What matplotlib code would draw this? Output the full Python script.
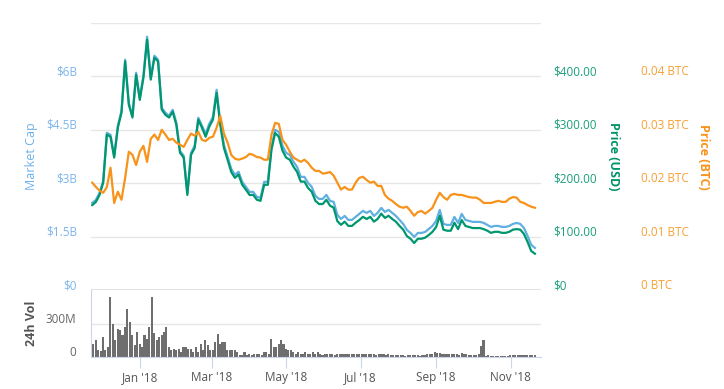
import matplotlib
matplotlib.use("Agg")
import matplotlib.pyplot as plt
import matplotlib.dates as mdates
import matplotlib.transforms as mtransforms
import pandas as pd

plt.rcParams['font.family'] = ['Open Sans', 'DejaVu Sans']

# price data, one value every 3 days from 23 Nov 2017
price_usd = [159, 165, 178, 201, 291, 287, 248, 304, 332, 428,
             347, 323, 403, 356, 398, 469, 394, 435, 428, 338,
             328, 323, 334, 309, 257, 248, 178, 253, 266, 319,
             304, 287, 306, 319, 369, 309, 266, 244, 221, 210,
             216, 197, 188, 178, 178, 169, 167, 197, 197, 263,
             294, 287, 261, 248, 244, 231, 221, 203, 203, 191,
             184, 167, 161, 161, 169, 158, 154, 129, 122, 128,
             120, 120, 126, 131, 137, 133, 137, 128, 133, 143,
             135, 139, 133, 128, 120, 113, 101, 96, 88, 96,
             96, 98, 103, 109, 118, 139, 113, 111, 111, 126,
             114, 131, 120, 118, 116, 116, 116, 114, 111, 107,
             109, 109, 107, 107, 109, 113, 114, 113, 105, 90,
             73, 68]

market_cap_b = [2.447, 2.531, 2.728, 3.066, 4.416, 4.359, 3.769, 4.613, 5.034, 6.469,
                5.259, 4.894, 6.103, 5.400, 6.019, 7.116, 5.963, 6.581, 6.469, 5.119,
                4.978, 4.894, 5.063, 4.697, 3.909, 3.769, 2.728, 3.853, 4.050, 4.838,
                4.613, 4.388, 4.669, 4.866, 5.625, 4.725, 4.078, 3.741, 3.403, 3.234,
                3.319, 3.038, 2.897, 2.756, 2.756, 2.616, 2.588, 3.038, 3.038, 4.022,
                4.500, 4.444, 4.050, 3.853, 3.797, 3.600, 3.459, 3.178, 3.178, 3.009,
                2.897, 2.644, 2.559, 2.559, 2.672, 2.503, 2.475, 2.109, 1.997, 2.081,
                1.969, 1.969, 2.053, 2.138, 2.222, 2.166, 2.222, 2.081, 2.166, 2.306,
                2.194, 2.250, 2.166, 2.081, 1.969, 1.856, 1.688, 1.603, 1.491, 1.603,
                1.603, 1.631, 1.716, 1.800, 1.941, 2.250, 1.856, 1.828, 1.828, 2.053,
                1.884, 2.138, 1.969, 1.941, 1.913, 1.913, 1.913, 1.884, 1.828, 1.772,
                1.800, 1.800, 1.772, 1.772, 1.800, 1.856, 1.884, 1.856, 1.744, 1.519,
                1.266, 1.181]

price_btc = [0.0201, 0.0193, 0.0186, 0.0182, 0.0193, 0.0229, 0.0163, 0.0184, 0.0169, 0.0210,
             0.0259, 0.0253, 0.0234, 0.0259, 0.0270, 0.0240, 0.0283, 0.0291, 0.0281, 0.0300,
             0.0291, 0.0281, 0.0283, 0.0276, 0.0272, 0.0268, 0.0281, 0.0293, 0.0289, 0.0296,
             0.0281, 0.0279, 0.0285, 0.0287, 0.0304, 0.0326, 0.0293, 0.0276, 0.0253, 0.0246,
             0.0244, 0.0246, 0.0249, 0.0255, 0.0253, 0.0249, 0.0248, 0.0244, 0.0244, 0.0291,
             0.0313, 0.0311, 0.0281, 0.0272, 0.0259, 0.0248, 0.0244, 0.0240, 0.0244, 0.0238,
             0.0229, 0.0223, 0.0223, 0.0218, 0.0219, 0.0221, 0.0214, 0.0201, 0.0188, 0.0193,
             0.0188, 0.0188, 0.0201, 0.0210, 0.0212, 0.0206, 0.0201, 0.0203, 0.0195, 0.0195,
             0.0178, 0.0171, 0.0167, 0.0161, 0.0156, 0.0154, 0.0156, 0.0148, 0.0139, 0.0146,
             0.0148, 0.0143, 0.0148, 0.0154, 0.0169, 0.0182, 0.0174, 0.0169, 0.0178, 0.0180,
             0.0178, 0.0178, 0.0176, 0.0174, 0.0173, 0.0173, 0.0169, 0.0163, 0.0163, 0.0163,
             0.0165, 0.0167, 0.0165, 0.0165, 0.0171, 0.0174, 0.0173, 0.0165, 0.0163, 0.0159,
             0.0156, 0.0154]

# 24h volume in millions, one bar every 2 days
volume_m = [121, 152, 61, 52, 182, 61, 91, 545, 303, 152,
            258, 242, 197, 273, 439, 318, 197, 112, 227, 121,
            91, 197, 167, 273, 545, 220, 152, 182, 197, 227,
            273, 91, 61, 76, 61, 76, 45, 91, 91, 76,
            76, 45, 91, 45, 121, 61, 152, 106, 61, 61,
            136, 212, 121, 136, 136, 61, 61, 61, 61, 45,
            15, 15, 45, 15, 30, 15, 30, 30, 30, 15,
            45, 45, 30, 161, 91, 91, 121, 152, 121, 76,
            61, 61, 45, 30, 45, 30, 30, 45, 30, 30,
            45, 30, 45, 30, 15, 30, 30, 30, 30, 15,
            30, 30, 30, 30, 25, 25, 30, 30, 30, 30,
            30, 30, 25, 25, 25, 25, 15, 25, 25, 30,
            21, 30, 15, 15, 15, 15, 15, 15, 9, 21,
            15, 21, 21, 15, 9, 15, 15, 25, 30, 25,
            45, 40, 35, 30, 30, 30, 30, 30, 30, 30,
            15, 40, 25, 30, 21, 15, 15, 21, 25, 97,
            152, 9, 21, 9, 9, 9, 9, 9, 6, 6,
            6, 15, 15, 15, 15, 15, 15, 21, 21, 21,
            21, 15]

cap_ticks = [0, 1.5e9, 3e9, 4.5e9, 6e9, 7.5e9]
cap_labels = ['$0', '$1.5B', '$3B', '$4.5B', '$6B', '']
usd_ticks = [0, 100, 200, 300, 400, 500]
usd_labels = ['$0', '$100.00', '$200.00', '$300.00', '$400.00', '']
btc_ticks = [0, 0.01, 0.02, 0.03, 0.04, 0.05]
btc_labels = ['0 BTC', '0.01 BTC', '0.02 BTC', '0.03 BTC', '0.04 BTC', '']

price_dates = pd.date_range('2017-11-23', periods=len(price_usd), freq='3D')
vol_dates = pd.date_range('2017-11-23', periods=len(volume_m), freq='2D')

blue = '#5fafe1'
green = '#00966e'
orange = '#f7931a'

fig = plt.figure(figsize=(7.24, 3.89), dpi=100)
ax = fig.add_axes([91 / 724, 1 - 290 / 389, 450 / 724, 267 / 389])
axv = fig.add_axes([91 / 724, 1 - 357 / 389, 450 / 724, 67 / 389], sharex=ax)
ax2 = ax.twinx()
ax3 = ax.twinx()

ax.plot(price_dates, [v * 1e9 for v in market_cap_b], color=blue, lw=1.6, zorder=2)
ax2.plot(price_dates, price_usd, color=green, lw=1.6, zorder=3)
ax3.plot(price_dates, price_btc, color=orange, lw=1.6, zorder=4)

ax.set_ylim(0, 7.5e9)
ax2.set_ylim(0, 500)
ax3.set_ylim(0, 0.05)
ax.set_xlim(pd.Timestamp('2017-11-22'), pd.Timestamp('2018-11-26'))

ax.set_yticks(cap_ticks, cap_labels)
ax2.set_yticks(usd_ticks, usd_labels)
ax3.set_yticks(btc_ticks, btc_labels)
ax.grid(axis='y', color='#e6e6e6', lw=1)
ax.axhline(0, color='#e2e2e2', lw=2.2, zorder=1)
ax.tick_params(axis='x', which='both', bottom=False, labelbottom=False)
ax.tick_params(axis='y', length=0, pad=10, labelsize=8.5, labelcolor='#7cb5ec')
ax2.tick_params(axis='y', length=0, pad=8.5, labelsize=8.5, labelcolor='#1a9e7a')
ax3.spines['right'].set_position(('axes', 1.2))
ax3.tick_params(axis='y', length=0, pad=7, labelsize=8.5, labelcolor='#f7a035')

for a in (ax, ax2, ax3):
    for s in a.spines.values():
        s.set_visible(False)
    a.patch.set_visible(False)

# Highcharts style: y labels sit a little above their grid line
up = mtransforms.ScaledTranslation(0, 0.06, fig.dpi_scale_trans)
for a in (ax, ax2, ax3):
    for lab in a.get_yticklabels():
        lab.set_transform(lab.get_transform() + up)

ax.set_ylabel('Market Cap', color='#6fb1e8', fontsize=9)
ax.yaxis.set_label_coords(-0.118, 0.5)
ax2.set_ylabel('Price (USD)', color='#009468', fontsize=9, fontweight='bold', rotation=270, va='center')
ax2.yaxis.set_label_coords(1.16, 0.5)
ax3.set_ylabel('Price (BTC)', color='#f7931a', fontsize=9, fontweight='bold', rotation=270, va='center')
ax3.yaxis.set_label_coords(1.36, 0.5)

# volume panel
axv.bar(vol_dates, [v * 1e6 for v in volume_m], width=1.7, color='#6e6e6e', align='edge', zorder=2)
axv.set_ylim(0, 610e6)
axv.set_yticks([0, 300e6], ['0', '300M'])
axv.grid(axis='y', color='#e6e6e6', lw=1)
axv.tick_params(axis='y', length=0, pad=11, labelsize=8.5, labelcolor='#666666')
for lab in axv.get_yticklabels():
    lab.set_transform(lab.get_transform() + up)
for side in ('top', 'right'):
    axv.spines[side].set_visible(False)
axv.spines['left'].set_color('#ccd6eb')
axv.spines['bottom'].set_color('#ccd6eb')
axv.xaxis.set_major_locator(mdates.MonthLocator(bymonth=[1, 3, 5, 7, 9, 11]))
axv.xaxis.set_major_formatter(mdates.DateFormatter("%b '%y"))
axv.tick_params(axis='x', length=8, color='#ccd6eb', labelsize=8.5, labelcolor='#555555', pad=2)
axv.set_ylabel('24h Vol', color='#555555', fontsize=9, fontweight='bold')
axv.yaxis.set_label_coords(-0.118, 0.5)

fig.savefig('out.png', dpi=100)
